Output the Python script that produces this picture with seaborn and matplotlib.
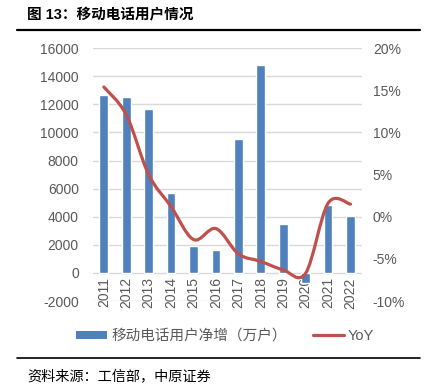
import numpy as np
import pandas as pd
import matplotlib
matplotlib.use('Agg')
import matplotlib.pyplot as plt
from matplotlib.path import Path
from matplotlib.patches import PathPatch, Patch
from matplotlib.lines import Line2D
import seaborn as sns

# 数据
years = ['2011', '2012', '2013', '2014', '2015', '2016',
         '2017', '2018', '2019', '2020', '2021', '2022']
net_add = [12670, 12550, 11650, 5660, 1930, 1600,
           9530, 14830, 3520, -730, 4850, 4040]
yoy = [15.4, 12.1, 5.0, 1.2, -2.7, -1.4,
       -4.4, -5.3, -6.3, -6.7, 1.6, 1.5]
left_ticks = list(range(-2000, 16001, 2000))
right_ticks = list(range(-10, 21, 5))

BLUE = '#4F81BD'
RED = '#C0504D'
GRAY = '#595959'

sns.set_style('white')
plt.rcParams['font.family'] = ['Liberation Sans', 'Noto Sans CJK SC', 'DejaVu Sans']

fig = plt.figure(figsize=(4.25, 3.92), dpi=100)
ax = fig.add_axes([0.218, 0.232, 0.633, 0.645])

df = pd.DataFrame({'year': years, 'net': net_add})
sns.barplot(data=df, x='year', y='net', color=BLUE, width=0.39,
            saturation=1, ax=ax, zorder=3)
ax.set_xlim(-0.5, len(years) - 0.5)
ax.set_ylim(-2000, 16000)
ax.set_yticks(left_ticks)
ax.set_yticklabels([str(v) for v in left_ticks])
ax.grid(axis='y', color='#D9D9D9', linewidth=1, zorder=0)
ax.set_axisbelow(True)
ax.set_xlabel('')
ax.set_ylabel('')
for s in ax.spines.values():
    s.set_visible(False)
# 年份标签贴着0轴
ax.spines['bottom'].set_position(('data', 0))
ax.tick_params(axis='x', length=0, pad=3, labelrotation=90, labelsize=10, labelcolor=GRAY)
ax.tick_params(axis='y', length=0, pad=10, labelsize=10, labelcolor=GRAY)

# 右轴 YoY，平滑曲线
ax2 = ax.twinx()
ax2.set_ylim(-10, 20)
ax2.set_yticks(right_ticks)
ax2.set_yticklabels([f'{v}%' for v in right_ticks])
ax2.tick_params(axis='y', length=0, pad=8, labelsize=10, labelcolor=GRAY)
for s in ax2.spines.values():
    s.set_visible(False)
ax2.grid(False)

xs = np.arange(len(years), dtype=float)
ys = np.array(yoy, dtype=float)
verts = [(xs[0], ys[0])]
codes = [Path.MOVETO]
n = len(xs)
for i in range(n - 1):
    p0 = np.array([xs[max(i - 1, 0)], ys[max(i - 1, 0)]])
    p1 = np.array([xs[i], ys[i]])
    p2 = np.array([xs[i + 1], ys[i + 1]])
    p3 = np.array([xs[min(i + 2, n - 1)], ys[min(i + 2, n - 1)]])
    c1 = p1 + (p2 - p0) / 6
    c2 = p2 - (p3 - p1) / 6
    verts += [tuple(c1), tuple(c2), tuple(p2)]
    codes += [Path.CURVE4] * 3
ax2.add_patch(PathPatch(Path(verts, codes), facecolor='none', edgecolor=RED,
                        linewidth=2.3, capstyle='round', joinstyle='round', zorder=4))

# 图例
handles = [Patch(facecolor=BLUE, edgecolor='none'),
           Line2D([], [], color=RED, linewidth=2.3)]
fig.legend(handles, ['移动电话用户净增（万户）', 'YoY'], loc='center',
           bbox_to_anchor=(0.53, 0.143), ncol=2, frameon=False, fontsize=10.5,
           labelcolor=GRAY, handlelength=2.1, handleheight=0.5,
           columnspacing=1.8, handletextpad=0.3)

# 标题与来源
fig.text(0.064, 0.962, '图 13：移动电话用户情况', fontsize=10.5, fontweight='bold',
         ha='left', va='center', color='black')
fig.add_artist(Line2D([0.04, 0.988], [0.923, 0.923], color='black', linewidth=1.6))
fig.add_artist(Line2D([0.04, 0.988], [0.087, 0.087], color='black', linewidth=1.2))
fig.text(0.064, 0.038, '资料来源：工信部，中原证券', fontsize=10.2,
         ha='left', va='center', color='black')

fig.savefig('out.png', dpi=100)
